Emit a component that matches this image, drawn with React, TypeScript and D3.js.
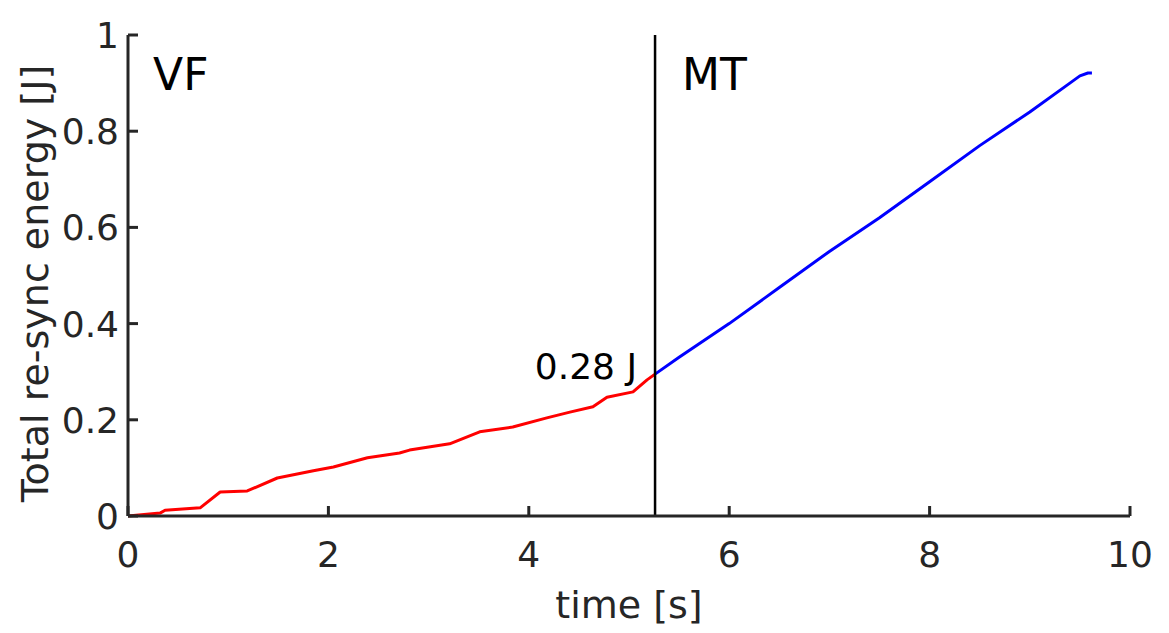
import React, { useRef, useEffect } from "react";
import * as d3 from "d3";

// red: VF phase
const vfTime = [0, 0.32, 0.37, 0.72, 0.92, 1.19, 1.49, 1.85, 2.05, 2.39, 2.71, 2.81, 3.21, 3.51, 3.84, 4.18, 4.41, 4.64, 4.78, 5.04, 5.18, 5.26];
const vfEnergy = [0, 0.006, 0.012, 0.017, 0.05, 0.052, 0.079, 0.094, 0.102, 0.121, 0.131, 0.137, 0.15, 0.175, 0.185, 0.204, 0.216, 0.227, 0.247, 0.258, 0.283, 0.295];

// blue: MT phase
const mtTime = [5.26, 5.5, 6, 6.5, 7, 7.5, 8, 8.5, 9, 9.4, 9.5, 9.58, 9.62];
const mtEnergy = [0.295, 0.33, 0.4, 0.475, 0.55, 0.62, 0.695, 0.77, 0.84, 0.9, 0.915, 0.921, 0.921];

const xTicks = [0, 2, 4, 6, 8, 10];
const yTicks = [0, 0.2, 0.4, 0.6, 0.8, 1];
const switchTime = 5.26;

function App() {
  const svgRef = useRef(null);

  useEffect(() => {
    const width = 1169;
    const height = 633;
    const margin = { top: 35, right: 39, bottom: 117, left: 128 };
    const innerWidth = width - margin.left - margin.right;
    const innerHeight = height - margin.top - margin.bottom;
    const font = "DejaVu Sans, sans-serif";
    const axisColor = "#262626";

    const svg = d3.select(svgRef.current);
    svg.selectAll("*").remove();
    svg.attr("width", width).attr("height", height);

    const x = d3.scaleLinear().domain([0, 10]).range([0, innerWidth]);
    const y = d3.scaleLinear().domain([0, 1]).range([innerHeight, 0]);

    const g = svg.append("g").attr("transform", `translate(${margin.left},${margin.top})`);

    const line = d3.line().x((d) => x(d[0])).y((d) => y(d[1]));

    const vf = vfTime.map((t, i) => [t, vfEnergy[i]]);
    const mt = mtTime.map((t, i) => [t, mtEnergy[i]]);

    g.append("path")
      .attr("d", line(vf))
      .attr("fill", "none")
      .attr("stroke", "#ff0000")
      .attr("stroke-width", 3)
      .attr("stroke-linejoin", "round");

    g.append("path")
      .attr("d", line(mt))
      .attr("fill", "none")
      .attr("stroke", "#0000ff")
      .attr("stroke-width", 3)
      .attr("stroke-linejoin", "round");

    // phase boundary
    g.append("line")
      .attr("x1", x(switchTime))
      .attr("x2", x(switchTime))
      .attr("y1", y(1))
      .attr("y2", y(0))
      .attr("stroke", "#000")
      .attr("stroke-width", 2.5);

    // axes: box-less, inward ticks
    g.append("line")
      .attr("x1", 0).attr("x2", innerWidth)
      .attr("y1", innerHeight).attr("y2", innerHeight)
      .attr("stroke", axisColor).attr("stroke-width", 3);
    g.append("line")
      .attr("x1", 0).attr("x2", 0)
      .attr("y1", 0).attr("y2", innerHeight)
      .attr("stroke", axisColor).attr("stroke-width", 3);

    g.selectAll(".xtick")
      .data(xTicks)
      .enter()
      .append("line")
      .attr("x1", (d) => x(d)).attr("x2", (d) => x(d))
      .attr("y1", innerHeight).attr("y2", innerHeight - 10)
      .attr("stroke", axisColor).attr("stroke-width", 3);

    g.selectAll(".xlabel")
      .data(xTicks)
      .enter()
      .append("text")
      .attr("x", (d) => x(d))
      .attr("y", innerHeight + 51)
      .attr("text-anchor", "middle")
      .style("font-family", font)
      .style("font-size", "36px")
      .attr("fill", axisColor)
      .text((d) => d);

    g.selectAll(".ytick")
      .data(yTicks)
      .enter()
      .append("line")
      .attr("x1", 0).attr("x2", 10)
      .attr("y1", (d) => y(d)).attr("y2", (d) => y(d))
      .attr("stroke", axisColor).attr("stroke-width", 3);

    g.selectAll(".ylabel")
      .data(yTicks)
      .enter()
      .append("text")
      .attr("x", -9)
      .attr("y", (d) => y(d))
      .attr("dy", "0.36em")
      .attr("text-anchor", "end")
      .style("font-family", font)
      .style("font-size", "36px")
      .attr("fill", axisColor)
      .text((d) => d);

    svg.append("text")
      .attr("x", margin.left + innerWidth / 2)
      .attr("y", 618)
      .attr("text-anchor", "middle")
      .style("font-family", font)
      .style("font-size", "38px")
      .attr("fill", axisColor)
      .text("time [s]");

    svg.append("text")
      .attr("transform", `translate(48,${margin.top + innerHeight / 2 + 8}) rotate(-90)`)
      .attr("text-anchor", "middle")
      .style("font-family", font)
      .style("font-size", "38px")
      .attr("fill", axisColor)
      .text("Total re-sync energy [J]");

    g.append("text")
      .attr("x", x(0.25))
      .attr("y", y(0.885))
      .style("font-family", font)
      .style("font-size", "44px")
      .attr("fill", "#000")
      .text("VF");

    g.append("text")
      .attr("x", x(switchTime) + 27)
      .attr("y", y(0.885))
      .style("font-family", font)
      .style("font-size", "44px")
      .attr("fill", "#000")
      .text("MT");

    g.append("text")
      .attr("x", x(switchTime) - 18)
      .attr("y", y(0.285))
      .attr("text-anchor", "end")
      .style("font-family", font)
      .style("font-size", "36px")
      .attr("fill", "#000")
      .text("0.28 J");
  }, []);

  return <svg ref={svgRef} style={{ position: "absolute", left: 0, top: 0, background: "#fff" }}></svg>;
}

export default App;
